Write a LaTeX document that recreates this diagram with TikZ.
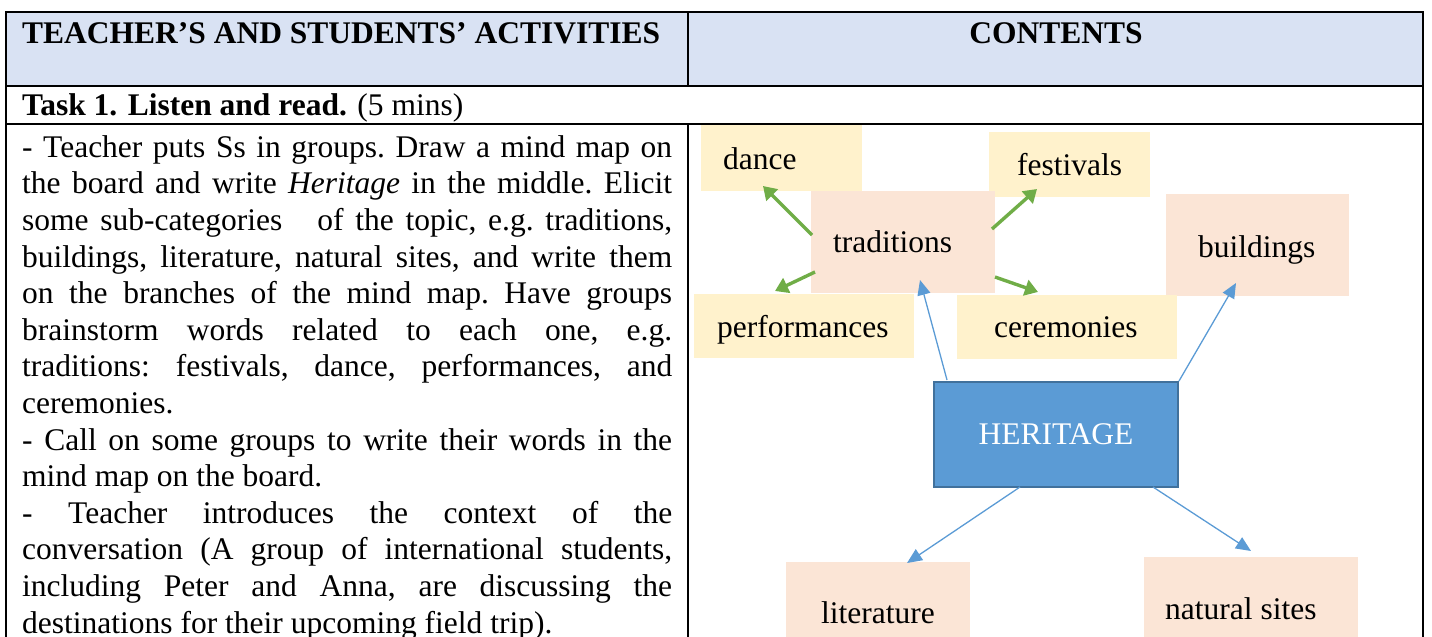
\documentclass[tikz,border=0pt]{standalone}
\usepackage{fontspec}
\setmainfont{Liberation Serif}
\usetikzlibrary{arrows.meta}
\definecolor{headblue}{HTML}{D9E2F3}
\definecolor{leafyellow}{HTML}{FFF2CC}
\definecolor{branchpeach}{HTML}{FBE5D6}
\definecolor{coreblue}{HTML}{5B9BD5}
\definecolor{coreedge}{HTML}{41719C}
\definecolor{leafgreen}{HTML}{70AD47}
\begin{document}
\begin{tikzpicture}[x=1pt,y=-1pt,
  rule/.style={line width=1.4pt, black},
  bodyfont/.style={font=\fontsize{31.5}{36.6}\selectfont},
  headfont/.style={font=\bfseries\fontsize{31.5}{36.6}\selectfont},
  leafbox/.style={fill=leafyellow, draw=none, inner sep=0, anchor=north west},
  branchbox/.style={fill=branchpeach, draw=none, inner sep=0, anchor=north west},
  word/.style={bodyfont, inner sep=0, anchor=base west},
  subarrow/.style={leafgreen, line width=3.4pt, -{Triangle[length=13pt,width=16pt]}},
  mainarrow/.style={coreblue, line width=1.3pt, -{Triangle[length=15pt,width=13pt]}},
]
\useasboundingbox (0,0) rectangle (1432,637);

% table frame
\fill[headblue] (6,12) rectangle (1423,86);
\draw[rule] (6,637) -- (6,12) -- (1423,12) -- (1423,637);
\draw[rule] (6,86) -- (1423,86);
\draw[rule] (6,124) -- (1423,124);
\draw[rule] (688,12) -- (688,86);
\draw[rule] (688,124) -- (688,637);

% headings
\node[headfont, inner sep=0, anchor=base west] (hleft) at (22,43) {TEACHER’S AND STUDENTS’ ACTIVITIES};
\node[headfont, inner sep=0, anchor=base] (hright) at (1056,43) {CONTENTS};
\node[word] (task) at (22,115) {\textbf{Task 1. Listen and read.} (5 mins)};

% activities column
\node[bodyfont, anchor=north west, inner sep=0, text width=650pt, align=justify] (body) at (22,131.4)
{\setlength{\parindent}{0pt}\frenchspacing\tolerance=9999\hbadness=10000
\strut- Teacher puts Ss in groups. Draw a mind map on\linebreak
the board and write \textit{Heritage} in the middle. Elicit\linebreak
some sub-categories\ \ \ of the topic, e.g. traditions,\linebreak
buildings, literature, natural sites, and write them\linebreak
on the branches of the mind map. Have groups\linebreak
brainstorm words related to each one, e.g.\linebreak
traditions: festivals, dance, performances, and\linebreak
ceremonies.\par
- Call on some groups to write their words in the\linebreak
mind map on the board.\par
- Teacher introduces the context of the\linebreak
conversation (A group of international students,\linebreak
including Peter and Anna, are discussing the\linebreak
destinations for their upcoming field trip).\par};

% mind map boxes
\node[leafbox, minimum width=161, minimum height=66] (dance) at (701,125) {};
\node[leafbox, minimum width=161, minimum height=65] (fest) at (989,132) {};
\node[branchbox, minimum width=184, minimum height=102] (trad) at (811,191) {};
\node[branchbox, minimum width=183, minimum height=102] (bld) at (1166,194) {};
\node[leafbox, minimum width=220, minimum height=64] (perf) at (694,294) {};
\node[leafbox, minimum width=220, minimum height=64] (cer) at (957,295) {};
\node[branchbox, minimum width=184, minimum height=75] (lit) at (786,562) {};
\node[branchbox, minimum width=214, minimum height=80] (nat) at (1144,557) {};
\node[fill=coreblue, draw=coreedge, line width=2pt, inner sep=0, anchor=north west,
      minimum width=244, minimum height=105] (core) at (933,381) {};
\node[bodyfont, text=white, inner sep=0] (coret) at (core.center) {HERITAGE};

% mind map labels
\node[word] (dancet) at (723,169) {dance};
\node[word] (festt) at (1017,175) {festivals};
\node[word] (tradt) at (833,252) {traditions};
\node[word] (bldt) at (1198,257) {buildings};
\node[word] (perft) at (717,337) {performances};
\node[word] (cert) at (994,337) {ceremonies};
\node[word] (litt) at (821,623) {literature};
\node[word] (natt) at (1165,619) {natural sites};

% connector end points
\coordinate (g1s) at (812,235); \coordinate (g1e) at (763,186);
\coordinate (g2s) at (992,229); \coordinate (g2e) at (1037,189);
\coordinate (g3s) at (815,272); \coordinate (g3e) at (775,291);
\coordinate (g4s) at (995,277); \coordinate (g4e) at (1038,292);
\coordinate (b1s) at (947,380); \coordinate (b1e) at (920,280);
\coordinate (b3s) at (1020,487); \coordinate (b3e) at (907,563);
\coordinate (b4s) at (1153,487); \coordinate (b4e) at (1251,551);
\coordinate (b2e) at (1236,283);

% sub-category branches
\draw[subarrow] (g1s) -- (g1e);
\draw[subarrow] (g2s) -- (g2e);
\draw[subarrow] (g3s) -- (g3e);
\draw[subarrow] (g4s) -- (g4e);

% main branches
\draw[mainarrow] (b1s) -- (b1e);
\draw[mainarrow] (core.north east) -- (b2e);
\draw[mainarrow] (b3s) -- (b3e);
\draw[mainarrow] (b4s) -- (b4e);
\end{tikzpicture}
\end{document}
